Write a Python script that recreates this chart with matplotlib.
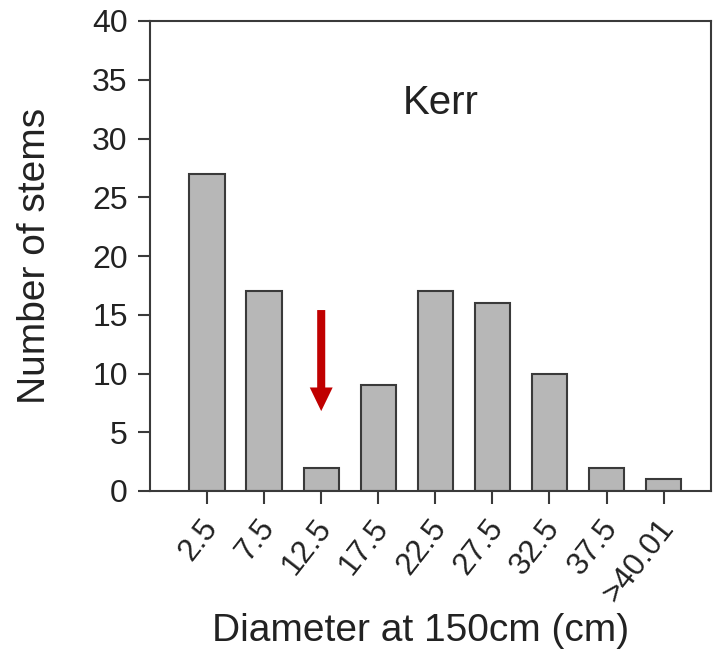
import matplotlib
matplotlib.use("Agg")
import matplotlib.pyplot as plt
import matplotlib.transforms as mtransforms
import numpy as np

plt.rcParams['font.family'] = ['Liberation Sans', 'DejaVu Sans']

categories = ["2.5", "7.5", "12.5", "17.5", "22.5", "27.5", "32.5", "37.5", ">40.01"]
stems = [27, 17, 2, 9, 17, 16, 10, 2, 1]
site = "Kerr"

fig = plt.figure(figsize=(7.27, 6.52), dpi=100)
ax = fig.add_axes([150/727, 1-491/652, (711-150)/727, (491-21)/652])

x = np.arange(len(categories))
ax.bar(x, stems, width=0.62, color="#b7b7b7", edgecolor="#3a3a3a", linewidth=1.5)

ax.set_xlim(-1.0, 8.83)
ax.set_ylim(0, 40)
ax.set_yticks(np.arange(0, 41, 5))
ax.set_xticks(x)
ax.set_xticklabels(categories, rotation=52, ha="right", va="center", rotation_mode="anchor")
ax.tick_params(axis="both", direction="out", length=9, width=1.5, color="#3a3a3a",
               labelcolor="#222222")
ax.tick_params(axis="y", labelsize=23, pad=7)
ax.tick_params(axis="x", labelsize=22.5, pad=14)
offset = mtransforms.ScaledTranslation(5/100, 0, fig.dpi_scale_trans)
for lab in ax.get_xticklabels():
    lab.set_transform(lab.get_transform() + offset)
for s in ax.spines.values():
    s.set_linewidth(1.5)
    s.set_color("#3a3a3a")

ax.set_ylabel("Number of stems", fontsize=28, color="#222222", va="center")
ax.yaxis.set_label_coords(-0.205, 0.5)
ax.set_xlabel("Diameter at 150cm (cm)", fontsize=28, color="#222222", va="center")
ax.xaxis.set_label_coords(0.483, -0.298)

ax.text(4.09, 33.0, site, fontsize=29, ha="center", va="center", color="#222222")

ax.annotate("", xy=(2, 6.8), xytext=(2, 15.4),
            arrowprops=dict(arrowstyle="simple,head_width=1.65,head_length=1.7,tail_width=0.58",
                            color="#c00000", lw=0, shrinkA=0, shrinkB=0))

fig.savefig("out.png", dpi=100)
